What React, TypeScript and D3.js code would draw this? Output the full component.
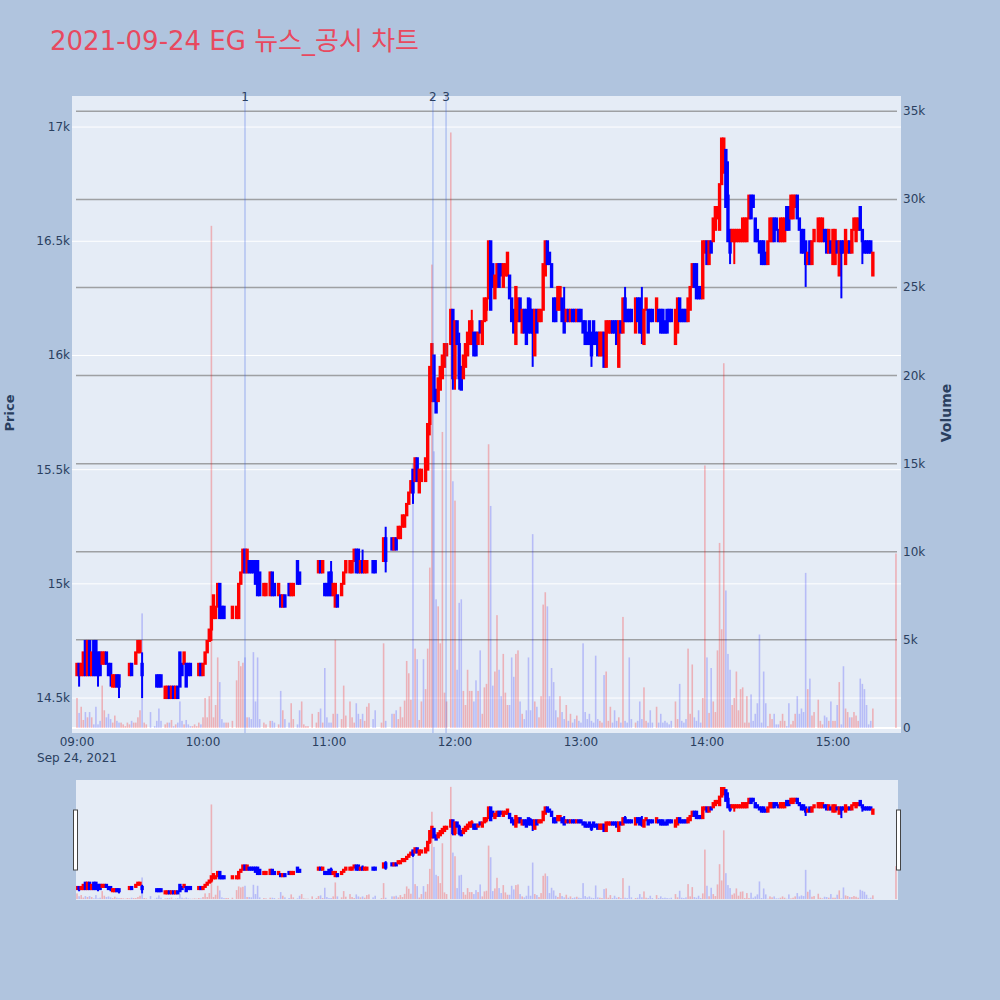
import React, { useEffect, useRef } from 'react';
import * as d3 from 'd3';

const TITLE = '2021-09-24 EG 뉴스_공시 차트';
const DAY = '2021-09-24';
const SESSION_START = '09:00:00';
const X_RANGE = ['08:57:37', '15:32:24'];
const PRICE_RANGE = [14347, 17136];
const VOLUME_RANGE = [-290, 35870];
const PRICE_TICKS = [14500, 15000, 15500, 16000, 16500, 17000];
const VOLUME_TICKS = [0, 5000, 10000, 15000, 20000, 25000, 30000, 35000];
const HOUR_TICKS = ['09:00', '10:00', '11:00', '12:00', '13:00', '14:00', '15:00'];
const EVENT_LABELS = ['1', '2', '3'];
const EVENT_TIMES = ['10:20:00', '11:49:30', '11:55:45'];

// one entry per minute from 09:00, null = no trade in that minute
const OPEN = [
  14600, 14650, 14600, 14600, 14750, 14600, 14750, 14600, 14750, 14750, // 09:00
  14700, 14700, 14650, 14650, 14700, 14650, 14650, 14550, 14550, 14600,
  14600, 14600, 14600, 14600, 14600, 14600, 14650, 14650, 14650, 14700,
  14700, 14650, 14650, 14650, null, 14600, null, 14600, 14600, 14600,
  14600, null, 14500, 14500, 14550, 14500, 14550, 14500, 14550, 14700,
  14650, 14650, 14650, 14650, 14650, 14650, 14650, 14650, 14600, 14650,
  14600, 14650, 14700, 14750, 14800, 14850, 14850, 14900, 15000, 14900, // 10:00
  14900, 14900, 14900, null, 14850, null, 14850, 14850, 15000, 15050,
  15150, 15050, 15100, 15100, 15100, 15100, 15100, 15050, null, 14950,
  14950, null, 14950, 15050, 15000, null, 14950, 14950, 14900, 14950,
  null, 15000, 14950, 14950, null, 15100, 15050, 15050, 15050, 15050,
  15050, null, 15050, null, 15050, 15050, 15100, 15050, 15000, 15000,
  15050, 15050, 14950, 14900, 14950, null, 14950, 15000, 15050, null, // 11:00
  15050, 15050, 15100, 15150, 15150, 15050, 15100, 15050, 15050, 15150,
  null, 15100, 15100, null, null, 15100, 15100, 15200, null, null,
  15200, 15150, 15200, 15200, 15200, 15250, 15250, 15300, 15350, 15400,
  15500, 15450, 15550, 15400, 15450, 15450, 15450, 15500, 15700, 15800,
  16000, 15850, 15800, 15850, 15900, 15950, 16000, null, 16050, 16200,
  15900, 16150, 16050, 15950, 15900, 15950, 16000, 16050, 16050, 16100, // 12:00
  16100, 16050, 16150, 16050, 16150, 16200, 16250, 16500, 16400, 16250,
  16300, 16400, 16400, 16300, 16350, 16350, 16350, 16250, 16200, 16050,
  16150, 16250, 16100, 16200, 16200, 16250, 16200, 16200, 16000, 16200,
  16150, 16150, 16200, 16350, 16500, 16450, 16400, 16250, 16250, 16200,
  16200, 16250, 16200, 16150, 16200, 16150, 16200, 16200, 16150, 16200,
  16200, 16150, 16150, 16100, 16150, 16100, 16150, 16100, 16100, 16000, // 13:00
  16000, 16100, 15950, 16100, 16100, 16150, 16150, 16150, 15950, 16150,
  16100, 16250, 16200, 16200, 16200, null, 16100, 16250, 16250, 16200,
  16050, 16200, 16200, 16200, 16200, null, 16150, 16200, 16200, 16200,
  16150, 16200, 16200, 16200, null, 16050, 16100, 16250, 16200, 16200,
  16200, 16150, 16200, 16300, 16400, 16400, 16300, 16300, 16250, 16450,
  16500, 16400, 16500, 16500, 16550, 16600, 16550, 16750, 16800, 16900, // 14:00
  16700, 16550, 16500, 16500, 16500, 16500, 16500, 16500, 16500, 16500,
  16600, 16700, 16700, 16600, 16550, 16500, 16500, 16500, 16450, 16400,
  16500, 16500, 16600, 16600, 16550, 16500, 16500, 16500, 16650, 16650,
  16600, 16600, 16650, 16700, 16600, 16550, 16550, 16500, 16400, 16500,
  16400, 16500, null, 16500, 16500, 16500, 16550, 16550, 16450, 16500,
  16400, 16400, 16500, 16350, 16500, 16500, 16400, 16450, 16500, 16450, // 15:00
  16550, 16500, 16550, 16650, 16550, 16500, 16500, 16500, 16500, 16350,
  null, null, null, null, null, null, null, null, null, null,
  16600,
];

const HIGH = [
  14650, 14650, 14650, 14700, 14750, 14750, 14750, 14700, 14750, 14750,
  14700, 14700, 14700, 14700, 14700, 14650, 14650, 14600, 14600, 14600,
  14600, 14600, 14600, 14600, 14600, 14650, 14650, 14650, 14700, 14750,
  14750, 14700, 14650, 14650, null, 14600, null, 14600, 14600, 14600,
  14600, null, 14550, 14550, 14550, 14550, 14550, 14550, 14550, 14700,
  14650, 14700, 14650, 14650, 14650, 14650, 14650, 14650, 14650, 14650,
  14650, 14700, 14750, 14800, 14900, 14950, 14900, 15000, 15000, 14900,
  14900, 14900, 14900, null, 14900, null, 14900, 15000, 15050, 15150,
  15150, 15150, 15100, 15100, 15100, 15100, 15100, 15050, null, 15000,
  15000, null, 15050, 15050, 15000, null, 15000, 14950, 14950, 14950,
  null, 15000, 15000, 15000, null, 15100, 15050, 15050, 15050, 15050,
  15050, null, 15050, null, 15050, 15100, 15100, 15100, 15000, 15000,
  15050, 15100, 15000, 15000, 14950, null, 15000, 15050, 15100, null,
  15100, 15100, 15150, 15150, 15150, 15100, 15150, 15100, 15100, 15150,
  null, 15100, 15100, null, null, 15100, 15200, 15250, null, null,
  15200, 15200, 15200, 15250, 15250, 15300, 15300, 15350, 15400, 15450,
  15500, 15550, 15550, 15500, 15500, 15450, 15550, 15700, 15950, 16050,
  16000, 15850, 15900, 15950, 16000, 16050, 16050, null, 16200, 16200,
  16150, 16150, 16100, 15950, 16000, 16050, 16100, 16150, 16200, 16100,
  16100, 16100, 16150, 16150, 16250, 16250, 16500, 16500, 16400, 16350,
  16400, 16400, 16400, 16400, 16400, 16450, 16350, 16250, 16200, 16300,
  16250, 16250, 16200, 16200, 16200, 16250, 16250, 16200, 16200, 16200,
  16200, 16200, 16400, 16500, 16500, 16450, 16400, 16250, 16250, 16300,
  16300, 16250, 16300, 16200, 16200, 16200, 16200, 16200, 16200, 16200,
  16200, 16150, 16150, 16100, 16150, 16100, 16150, 16100, 16100, 16100,
  16100, 16100, 16150, 16150, 16150, 16150, 16150, 16150, 16150, 16150,
  16250, 16300, 16200, 16200, 16200, null, 16250, 16250, 16250, 16300,
  16200, 16250, 16200, 16200, 16200, null, 16250, 16200, 16200, 16200,
  16150, 16200, 16200, 16200, null, 16200, 16250, 16250, 16200, 16200,
  16200, 16250, 16300, 16400, 16400, 16400, 16300, 16300, 16500, 16500,
  16500, 16500, 16500, 16600, 16650, 16650, 16750, 16950, 16950, 16900,
  16850, 16550, 16550, 16550, 16550, 16550, 16550, 16600, 16600, 16600,
  16700, 16700, 16700, 16600, 16550, 16500, 16500, 16500, 16450, 16500,
  16600, 16600, 16600, 16600, 16550, 16600, 16600, 16600, 16650, 16650,
  16700, 16700, 16700, 16700, 16600, 16550, 16550, 16500, 16450, 16500,
  16500, 16550, null, 16600, 16600, 16600, 16550, 16550, 16550, 16500,
  16550, 16550, 16500, 16500, 16500, 16500, 16550, 16500, 16500, 16550,
  16600, 16600, 16600, 16650, 16550, 16500, 16500, 16500, 16500, 16450,
  null, null, null, null, null, null, null, null, null, null,
  16600,
];

const LOW = [
  14600, 14550, 14600, 14600, 14600, 14600, 14600, 14600, 14600, 14600,
  14550, 14600, 14650, 14650, 14650, 14600, 14550, 14550, 14550, 14550,
  14500, 14600, 14600, 14600, 14600, 14600, 14600, 14650, 14650, 14700,
  14700, 14500, 14650, 14650, null, 14600, null, 14600, 14550, 14550,
  14550, null, 14500, 14500, 14500, 14500, 14500, 14500, 14500, 14550,
  14600, 14650, 14550, 14600, 14600, 14650, 14650, 14650, 14600, 14600,
  14600, 14650, 14700, 14750, 14750, 14850, 14850, 14900, 14850, 14850,
  14850, 14900, 14900, null, 14850, null, 14850, 14850, 15000, 15050,
  15050, 15050, 15050, 15050, 15050, 15000, 14950, 14950, null, 14950,
  14950, null, 14950, 14950, 14950, null, 14950, 14900, 14900, 14900,
  null, 14950, 14950, 14950, null, 15000, 15000, 15050, 15050, 15050,
  15050, null, 15050, null, 15050, 15050, 15050, 15050, 14950, 14950,
  14950, 14950, 14950, 14900, 14900, null, 14950, 15000, 15050, null,
  15050, 15050, 15100, 15050, 15050, 15050, 15050, 15050, 15050, 15150,
  null, 15050, 15050, null, null, 15100, 15100, 15050, null, null,
  15150, 15150, 15150, 15200, 15200, 15250, 15250, 15300, 15350, 15400,
  15350, 15450, 15450, 15400, 15450, 15450, 15450, 15500, 15650, 15800,
  15800, 15750, 15800, 15850, 15900, 15950, 16000, null, 16050, 15850,
  15850, 16050, 15850, 15850, 15900, 15950, 16000, 16050, 16050, 16000,
  16000, 16050, 16100, 16050, 16150, 16150, 16250, 16200, 16300, 16250,
  16300, 16300, 16350, 16300, 16350, 16350, 16250, 16150, 16100, 16050,
  16150, 16150, 16100, 16100, 16050, 16100, 16100, 15950, 16000, 16100,
  16150, 16150, 16200, 16350, 16400, 16400, 16300, 16150, 16150, 16200,
  16200, 16150, 16100, 16150, 16150, 16150, 16150, 16150, 16150, 16150,
  16150, 16100, 16050, 16050, 16050, 15950, 16050, 16050, 16000, 16000,
  16000, 15950, 15950, 16100, 16100, 16100, 16100, 16050, 15950, 16100,
  16100, 16150, 16150, 16150, 16150, null, 16100, 16150, 16100, 16050,
  16050, 16200, 16100, 16150, 16150, null, 16150, 16150, 16100, 16100,
  16100, 16100, 16150, 16150, null, 16050, 16100, 16150, 16150, 16150,
  16150, 16150, 16200, 16300, 16300, 16250, 16250, 16250, 16250, 16450,
  16400, 16400, 16450, 16500, 16550, 16600, 16550, 16750, 16800, 16650,
  16500, 16400, 16500, 16400, 16500, 16500, 16500, 16500, 16500, 16500,
  16600, 16600, 16650, 16500, 16500, 16450, 16400, 16400, 16400, 16400,
  16500, 16500, 16500, 16550, 16500, 16500, 16500, 16500, 16550, 16550,
  16600, 16600, 16650, 16600, 16550, 16450, 16450, 16300, 16400, 16400,
  16400, 16500, null, 16500, 16500, 16500, 16500, 16450, 16450, 16450,
  16400, 16400, 16450, 16350, 16250, 16450, 16400, 16450, 16450, 16450,
  16550, 16500, 16550, 16550, 16400, 16450, 16450, 16450, 16450, 16350,
  null, null, null, null, null, null, null, null, null, null,
  16600,
];

const CLOSE = [
  14650, 14600, 14650, 14700, 14600, 14750, 14600, 14700, 14600, 14600,
  14600, 14600, 14700, 14700, 14650, 14600, 14600, 14600, 14600, 14550,
  14550, 14600, 14600, 14600, 14600, 14650, 14600, 14650, 14700, 14750,
  14750, 14600, 14650, 14650, null, 14600, null, 14600, 14550, 14550,
  14550, null, 14550, 14550, 14500, 14550, 14500, 14550, 14500, 14550,
  14600, 14700, 14550, 14600, 14600, 14650, 14650, 14650, 14650, 14600,
  14650, 14700, 14750, 14800, 14900, 14950, 14900, 15000, 14850, 14850,
  14850, 14900, 14900, null, 14900, null, 14900, 15000, 15050, 15150,
  15050, 15150, 15050, 15050, 15050, 15000, 14950, 14950, null, 15000,
  15000, null, 15050, 14950, 14950, null, 15000, 14900, 14950, 14900,
  null, 14950, 15000, 15000, null, 15000, 15000, 15050, 15050, 15050,
  15050, null, 15050, null, 15050, 15100, 15050, 15100, 14950, 14950,
  14950, 14950, 15000, 15000, 14900, null, 15000, 15050, 15100, null,
  15100, 15100, 15150, 15050, 15050, 15100, 15050, 15100, 15100, 15150,
  null, 15050, 15050, null, null, 15100, 15200, 15100, null, null,
  15150, 15200, 15150, 15250, 15250, 15300, 15300, 15350, 15400, 15450,
  15400, 15550, 15450, 15500, 15500, 15450, 15550, 15700, 15950, 16050,
  15800, 15750, 15900, 15950, 16000, 16050, 16050, null, 16200, 15900,
  16150, 16050, 15900, 15850, 16000, 16050, 16100, 16150, 16150, 16000,
  16000, 16100, 16100, 16150, 16250, 16250, 16500, 16200, 16300, 16350,
  16400, 16300, 16350, 16400, 16400, 16450, 16250, 16150, 16100, 16300,
  16250, 16150, 16200, 16100, 16050, 16100, 16100, 16100, 16200, 16100,
  16200, 16200, 16400, 16500, 16400, 16400, 16300, 16150, 16150, 16300,
  16300, 16150, 16100, 16200, 16150, 16200, 16150, 16150, 16200, 16150,
  16150, 16100, 16050, 16050, 16050, 16000, 16050, 16050, 16000, 16100,
  16100, 15950, 16150, 16150, 16150, 16100, 16100, 16050, 16150, 16100,
  16250, 16150, 16150, 16150, 16150, null, 16250, 16150, 16100, 16100,
  16200, 16250, 16100, 16150, 16150, null, 16250, 16150, 16100, 16100,
  16100, 16100, 16150, 16150, null, 16200, 16250, 16150, 16150, 16150,
  16150, 16250, 16300, 16400, 16300, 16250, 16250, 16250, 16500, 16500,
  16400, 16500, 16450, 16600, 16650, 16650, 16750, 16950, 16950, 16650,
  16500, 16450, 16550, 16550, 16550, 16550, 16550, 16600, 16600, 16600,
  16700, 16600, 16650, 16500, 16500, 16450, 16400, 16400, 16400, 16500,
  16600, 16600, 16500, 16550, 16500, 16600, 16600, 16600, 16550, 16550,
  16700, 16700, 16700, 16600, 16550, 16450, 16450, 16400, 16450, 16400,
  16500, 16550, null, 16600, 16600, 16600, 16500, 16450, 16550, 16450,
  16550, 16550, 16450, 16500, 16450, 16450, 16550, 16500, 16450, 16550,
  16600, 16600, 16600, 16550, 16500, 16450, 16450, 16450, 16450, 16450,
  null, null, null, null, null, null, null, null, null, null,
  16600,
];

const VOLUME = [
  1700, 850, 1200, 450, 900, 600, 900, 600, 200, 1200,
  200, 400, 2400, 1000, 600, 800, 500, 300, 700, 400,
  300, 300, 200, 100, 300, 200, 400, 300, 300, 600,
  1000, 6500, 300, 200, null, 900, null, 100, 400, 1100,
  400, null, 200, 300, 300, 450, 100, 200, 300, 1500,
  400, 200, 450, 200, 100, 100, 200, 100, 300, 200,
  600, 1700, 600, 1800, 28500, 600, 1300, 4000, 2600, 500,
  300, 300, 300, null, 400, null, 2700, 3800, 3500, 3700,
  4000, 600, 600, 500, 4300, 1500, 4000, 500, null, 300,
  200, null, 400, 400, 300, null, 200, 2100, 1000, 500,
  null, 300, 1400, 500, null, 200, 1000, 1500, 200, 100,
  100, null, 800, null, 300, 900, 1100, 300, 3400, 600,
  300, 300, 800, 5000, 800, null, 500, 2400, 700, null,
  1500, 600, 300, 1400, 800, 500, 800, 400, 1200, 1400,
  null, 500, 1000, null, null, 300, 4800, 400, null, null,
  800, 800, 1000, 500, 1200, 600, 1550, 3800, 3100, 1600,
  15000, 4500, 3900, 450, 1500, 3900, 2200, 4500, 9100, 26300,
  15700, 7300, 6900, 4800, 16800, 2000, 1500, null, 33800, 14000,
  12900, 3300, 7100, 7300, 2100, 1300, 3300, 2100, 2100, 1500,
  2700, 2100, 4400, 800, 2300, 2500, 16100, 12600, 2400, 3200,
  6400, 3300, 1800, 4200, 2000, 1300, 1300, 4000, 2900, 4200,
  4400, 1500, 800, 500, 1000, 4000, 1000, 11000, 1500, 1200,
  600, 1800, 7000, 7700, 6900, 1800, 3400, 2600, 1000, 600,
  1800, 900, 500, 1300, 400, 800, 300, 500, 700, 400,
  300, 4800, 900, 500, 800, 400, 300, 4100, 500, 400,
  300, 3000, 3200, 400, 1200, 300, 1000, 400, 600, 300,
  6300, 400, 300, 4000, 500, null, 300, 400, 1500, 500,
  2300, 400, 300, 1000, 300, null, 1200, 300, 800, 300,
  400, 300, 200, 400, null, 1500, 500, 2500, 400, 300,
  500, 4500, 800, 3600, 600, 400, 1000, 300, 1700, 14900,
  4000, 850, 3400, 1500, 900, 4400, 10500, 5600, 20700, 7800,
  4200, 3300, 1300, 1700, 3200, 1000, 2200, 2300, 300, 1800,
  300, 1900, 400, 800, 1400, 5300, 300, 3200, 1400, 100,
  800, 500, 800, 200, 200, 400, 800, 400, 100, 1400,
  200, 400, 800, 1800, 800, 1100, 900, 8800, 2200, 2800,
  700, 900, null, 1600, 400, 200, 700, 600, 400, 1500,
  400, 400, 1300, 2600, 200, 3500, 1100, 900, 600, 600,
  900, 700, 400, 2800, 2500, 2200, 1300, 200, 400, 1100,
  null, null, null, null, null, null, null, null, null, null,
  9900,
];

const FONT = '"DejaVu Sans", Verdana, sans-serif';
const TITLE_FONT = '"DejaVu Sans", "Noto Sans CJK KR", sans-serif';
const INK = '#2a3f5f';
const UP = '#ff0000';
const DOWN = '#0000ff';

interface Bar {
  t: Date;
  o: number;
  h: number;
  l: number;
  c: number;
  v: number;
  up: boolean;
}

const parseTime = d3.timeParse('%Y-%m-%d %H:%M:%S');
const at = (hms: string) => parseTime(`${DAY} ${hms}`) as Date;

function buildBars(): Bar[] {
  const start = at(SESSION_START);
  const bars: Bar[] = [];
  let prevClose: number | null = null;
  let prevUp = true;
  OPEN.forEach((o, i) => {
    if (o == null) return;
    const c = CLOSE[i] as number;
    let up = prevUp;
    if (c > o) up = true;
    else if (c < o) up = false;
    else if (prevClose != null && c !== prevClose) up = c > prevClose;
    bars.push({
      t: d3.timeMinute.offset(start, i),
      o,
      h: HIGH[i] as number,
      l: LOW[i] as number,
      c,
      v: VOLUME[i] as number,
      up,
    });
    prevClose = c;
    prevUp = up;
  });
  return bars;
}

export default function App() {
  const svgRef = useRef<SVGSVGElement>(null);

  useEffect(() => {
    const svgElement = svgRef.current;
    if (!svgElement) return;
    const svg = d3.select(svgElement);
    svg.selectAll('*').remove();

    const bars = buildBars();
    const plot = { left: 72, right: 901, top: 96, bottom: 733 };
    const slider = { left: 76, right: 898, top: 780, bottom: 900 };

    const x = d3.scaleTime().domain([at(X_RANGE[0]), at(X_RANGE[1])]).range([plot.left, plot.right]);
    const yPrice = d3.scaleLinear().domain(PRICE_RANGE).range([plot.bottom, plot.top]);
    const yVol = d3.scaleLinear().domain(VOLUME_RANGE).range([plot.bottom, plot.top]);
    const ySliderPrice = d3.scaleLinear().domain(PRICE_RANGE).range([slider.bottom, slider.top]);
    const ySliderVol = d3.scaleLinear().domain(VOLUME_RANGE).range([slider.bottom, slider.top]);

    svg.append('rect').attr('width', 1000).attr('height', 1000).attr('fill', '#b0c4de');

    const defs = svg.append('defs');
    defs.append('clipPath').attr('id', 'clip-main').append('rect')
      .attr('x', plot.left).attr('y', plot.top)
      .attr('width', plot.right - plot.left).attr('height', plot.bottom - plot.top);
    defs.append('clipPath').attr('id', 'clip-slider').append('rect')
      .attr('x', slider.left).attr('y', slider.top)
      .attr('width', slider.right - slider.left).attr('height', slider.bottom - slider.top);

    // title
    svg.append('text')
      .attr('x', 50).attr('y', 50)
      .attr('font-family', TITLE_FONT)
      .attr('font-size', 26)
      .attr('fill', '#e8495f')
      .text(TITLE);

    // main plot background and grids
    svg.append('rect')
      .attr('x', plot.left).attr('y', plot.top)
      .attr('width', plot.right - plot.left).attr('height', plot.bottom - plot.top)
      .attr('fill', '#e5ecf6');

    svg.append('g').selectAll('line').data(PRICE_TICKS).enter().append('line')
      .attr('x1', plot.left).attr('x2', plot.right)
      .attr('y1', d => yPrice(d)).attr('y2', d => yPrice(d))
      .attr('stroke', '#ffffff').attr('stroke-width', 1);

    svg.append('g').selectAll('line').data(VOLUME_TICKS.filter(d => d > 0)).enter().append('line')
      .attr('x1', plot.left + 4).attr('x2', plot.right - 4)
      .attr('y1', d => yVol(d)).attr('y2', d => yVol(d))
      .attr('stroke', 'rgba(128,128,128,0.7)').attr('stroke-width', 1.5);

    svg.append('line')
      .attr('x1', plot.left).attr('x2', plot.right)
      .attr('y1', yVol(0)).attr('y2', yVol(0))
      .attr('stroke', '#ffffff').attr('stroke-width', 2);

    const drawSeries = (
      g: d3.Selection<SVGGElement, unknown, null, undefined>,
      yp: d3.ScaleLinear<number, number>,
      yv: d3.ScaleLinear<number, number>,
    ) => {
      g.append('g').selectAll('rect').data(bars).enter().append('rect')
        .attr('x', d => x(d.t) - 0.8)
        .attr('width', 1.6)
        .attr('y', d => yv(d.v))
        .attr('height', d => Math.max(0, yv(0) - yv(d.v)))
        .attr('fill', d => (d.up ? 'rgba(255,0,0,0.25)' : 'rgba(0,0,255,0.2)'));

      const candles = g.append('g').selectAll('g').data(bars).enter().append('g');
      candles.append('line')
        .attr('x1', d => x(d.t)).attr('x2', d => x(d.t))
        .attr('y1', d => yp(d.h)).attr('y2', d => yp(d.l))
        .attr('stroke', d => (d.up ? UP : DOWN))
        .attr('stroke-width', 2);
      candles.append('rect')
        .attr('x', d => x(d.t) - 0.7)
        .attr('width', 1.4)
        .attr('y', d => yp(Math.max(d.o, d.c)))
        .attr('height', d => Math.abs(yp(d.o) - yp(d.c)))
        .attr('fill', d => (d.up ? UP : DOWN))
        .attr('stroke', d => (d.up ? UP : DOWN))
        .attr('stroke-width', 2);
    };

    const main = svg.append('g').attr('clip-path', 'url(#clip-main)');
    drawSeries(main, yPrice, yVol);

    // event markers
    const events = svg.append('g');
    EVENT_TIMES.forEach((tm, i) => {
      const ex = x(at(tm));
      events.append('line')
        .attr('x1', ex).attr('x2', ex)
        .attr('y1', plot.top).attr('y2', plot.bottom)
        .attr('stroke', 'rgba(60,100,230,0.3)')
        .attr('stroke-width', 1.5);
      events.append('text')
        .attr('x', ex).attr('y', 101)
        .attr('text-anchor', 'middle')
        .attr('font-family', FONT).attr('font-size', 12)
        .attr('fill', INK)
        .text(EVENT_LABELS[i]);
    });

    // axes labels
    const axisText = svg.append('g')
      .attr('font-family', FONT).attr('font-size', 12).attr('fill', INK);
    axisText.selectAll('.pt').data(PRICE_TICKS).enter().append('text')
      .attr('x', 70).attr('y', d => yPrice(d) + 4)
      .attr('text-anchor', 'end')
      .text(d => `${d3.format('~g')(d / 1000)}k`);
    axisText.selectAll('.vt').data(VOLUME_TICKS).enter().append('text')
      .attr('x', 903).attr('y', d => yVol(d) + 4)
      .attr('text-anchor', 'start')
      .text(d => (d === 0 ? '0' : `${d / 1000}k`));
    axisText.selectAll('.xt').data(HOUR_TICKS).enter().append('text')
      .attr('x', d => x(at(`${d}:00`))).attr('y', 746)
      .attr('text-anchor', 'middle')
      .text(d => d);
    axisText.append('text')
      .attr('x', x(at(`${HOUR_TICKS[0]}:00`))).attr('y', 762)
      .attr('text-anchor', 'middle')
      .text(d3.timeFormat('%b %-d, %Y')(at(SESSION_START)));

    svg.append('text')
      .attr('transform', 'translate(14,413) rotate(-90)')
      .attr('text-anchor', 'middle')
      .attr('font-family', FONT).attr('font-size', 13).attr('font-weight', 'bold')
      .attr('fill', INK)
      .text('Price');
    svg.append('text')
      .attr('transform', 'translate(951,413) rotate(-90)')
      .attr('text-anchor', 'middle')
      .attr('font-family', FONT).attr('font-size', 14).attr('font-weight', 'bold')
      .attr('fill', INK)
      .text('Volume');

    // range slider
    svg.append('rect')
      .attr('x', slider.left).attr('y', slider.top)
      .attr('width', slider.right - slider.left).attr('height', slider.bottom - slider.top)
      .attr('fill', '#e5ecf6');
    const mini = svg.append('g').attr('clip-path', 'url(#clip-slider)');
    drawSeries(mini, ySliderPrice, ySliderVol);

    const midY = (slider.top + slider.bottom) / 2;
    [slider.left - 2.5, slider.right - 1.5].forEach(hx => {
      svg.append('rect')
        .attr('x', hx).attr('y', midY - 30)
        .attr('width', 4).attr('height', 60)
        .attr('fill', '#ffffff')
        .attr('stroke', '#444444').attr('stroke-width', 1);
    });

    return () => {
      svg.selectAll('*').remove();
    };
  }, []);

  return (
    <div style={{ position: 'absolute', left: 0, top: 0 }}>
      <svg ref={svgRef} width={1000} height={1000} style={{ display: 'block' }} />
    </div>
  );
}
